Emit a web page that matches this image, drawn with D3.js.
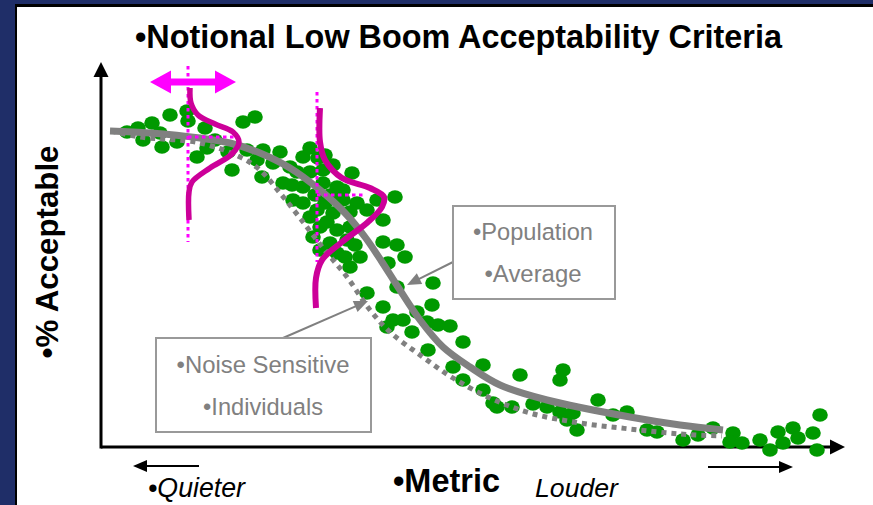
<!DOCTYPE html>
<html>
<head>
<meta charset="utf-8">
<script src="https://cdn.jsdelivr.net/npm/d3@7"></script>
<style>
  html, body { margin: 0; padding: 0; background: #1f2e68; }
  svg { display: block; }
</style>
</head>
<body>
<svg id="chart" width="873" height="505"></svg>
<script>
// Individual responses: metric level vs. acceptability (notional units)
const dotMetric = [26,37,51,69,86,87,42,61,76,96,
  106,104,131,142,154,146,127,162,179,189,
  172,202,209,209,222,232,251,242,256,276,
  294,282,161,156,182,202,192,202,222,236,
  242,224,209,232,249,266,219,236,249,229,
  246,219,236,259,282,296,304,287,249,332,
  296,266,282,331,292,302,286,316,311,326,
  337,349,362,327,352,382,362,382,396,411,
  419,432,446,462,459,459,466,476,497,512,
  526,546,556,582,597,612,632,629,641,659,
  669,677,682,692,697,712,719,716,472,392,
  114,59,191,214,216,226,254,217,196,229,
  212,244,224];
const dotAcceptable = [315,319,324,332,336,326,307,300,305,290,
  299,319,277,325,330,297,295,297,295,280,
  284,290,299,275,277,282,274,257,244,247,
  250,227,270,287,264,260,247,244,264,260,
  247,244,230,234,235,237,220,217,220,204,
  207,197,194,190,205,202,190,184,180,164,
  160,154,140,142,127,127,120,135,115,125,
  122,121,105,97,80,82,67,57,40,40,
  72,43,40,77,67,35,27,17,47,32,
  35,17,15,7,12,19,14,5,4,7,
  -3,15,4,19,9,14,32,-3,34,44,
  307,314,262,252,237,225,202,289,275,252,
  210,190,292];

// Population average curve
const avgMetric = [9,49,99,129,159,189,219,244,264,281,297,319,342,369,399,446,529,579,622];
const avgAcceptable = [316,314,309,304,294,279,257,234,210,185,160,127,100,80,62,47,30,22,17];

// Noise-sensitive individuals curve
const sensMetric = [10,39,99,139,159,179,199,222,246,269,289,319,352,389,429,479,529,579,621];
const sensAcceptable = [316,310,304,290,277,254,229,199,170,137,115,92,69,49,34,24,18,13,11];

// Spread of individual thresholds at two levels (drawn sideways)
const spreadLowMetric = [89,90,97,114,132,138,131,109,91,88,88];
const spreadLowAcceptable = [359,344,332,323,315,305,293,279,265,255,227];
const spreadHighMetric = [219,219,224,241,269,283,281,267,241,221,215,215];
const spreadHighAcceptable = [339,305,287,269,259,250,240,225,205,187,169,139];

// Text
const titleText = "•Notional Low Boom Acceptability Criteria";
const yTitle = "•% Acceptable";
const xTitle = "•Metric";
const quietText = "•Quieter";
const loudText = "Louder";
const avgLabel = ["•Population", "•Average"];
const sensLabel = ["•Noise Sensitive", "•Individuals"];

const GREEN = "#009900", GRAY = "#808080", DARK_MAGENTA = "#CC0099", MAGENTA = "#FF00FF";
const FONT = "'Liberation Sans', Arial, Helvetica, sans-serif";

const svg = d3.select("#chart");

// Frame
svg.append("rect").attr("width", 873).attr("height", 505).attr("fill", "#1f2e68");
svg.append("rect").attr("x", 15).attr("y", 4).attr("width", 858).attr("height", 501).attr("fill", "#000");
svg.append("rect").attr("x", 17).attr("y", 7).attr("width", 856).attr("height", 498).attr("fill", "#fff");

const x = d3.scaleLinear().domain([0, 744]).range([101, 845]);
const y = d3.scaleLinear().domain([0, 385]).range([447, 62]);

function fitText(t, width) {
  const len = t.node().getComputedTextLength();
  const fs = parseFloat(t.attr("font-size"));
  t.attr("font-size", (fs * width / len).toFixed(2));
  return t;
}

function arrow(g, x1, y1, x2, y2, color, w, headLen, headHalf) {
  const a = Math.atan2(y2 - y1, x2 - x1);
  const bx = x2 - headLen * Math.cos(a), by = y2 - headLen * Math.sin(a);
  g.append("line").attr("x1", x1).attr("y1", y1).attr("x2", bx + Math.cos(a)).attr("y2", by + Math.sin(a))
    .attr("stroke", color).attr("stroke-width", w);
  const px = -Math.sin(a) * headHalf, py = Math.cos(a) * headHalf;
  g.append("polygon")
    .attr("points", [[x2, y2], [bx + px, by + py], [bx - px, by - py]].map(p => p.join(",")).join(" "))
    .attr("fill", color);
}

// Axes (no ticks: notional scales)
const axes = svg.append("g");
const [x0, x1] = x.range();
const [y0, y1] = y.range();
arrow(axes, x0, y0, x1, y0, "#000", 3, 15, 7.5);
arrow(axes, x0, y0 + 1.5, x0, y1, "#000", 3, 15, 7.5);

// Individual responses
const pts = dotMetric.map((m, i) => [m, dotAcceptable[i]]);
svg.append("g").selectAll("ellipse").data(pts).join("ellipse")
  .attr("cx", d => x(d[0])).attr("cy", d => y(d[1]))
  .attr("rx", 7.8).attr("ry", 6.8).attr("fill", GREEN);

const line = d3.line().x(d => x(d[0])).y(d => y(d[1])).curve(d3.curveCatmullRom.alpha(0.5));

// Noise-sensitive curve (dotted)
svg.append("path").datum(sensMetric.map((m, i) => [m, sensAcceptable[i]]))
  .attr("d", line).attr("fill", "none").attr("stroke", GRAY)
  .attr("stroke-width", 5).attr("stroke-dasharray", "5,5");

// Population average curve
svg.append("path").datum(avgMetric.map((m, i) => [m, avgAcceptable[i]]))
  .attr("d", line).attr("fill", "none").attr("stroke", GRAY)
  .attr("stroke-width", 7);

// Threshold spreads
const spreads = svg.append("g");
function spreadGuides(cx, top, bottom, peakY, peakX) {
  spreads.append("line").attr("x1", x(cx)).attr("x2", x(cx)).attr("y1", y(top)).attr("y2", y(bottom))
    .attr("stroke", MAGENTA).attr("stroke-width", 3).attr("stroke-dasharray", "3.5,3.5");
  spreads.append("line").attr("x1", x(cx)).attr("x2", x(peakX)).attr("y1", y(peakY)).attr("y2", y(peakY))
    .attr("stroke", MAGENTA).attr("stroke-width", 3).attr("stroke-dasharray", "3.5,3.5");
}
spreadGuides(87, 381, 205, 310, 137);
spreadGuides(216, 355, 185, 252, 264);

spreads.append("path").datum(spreadLowMetric.map((m, i) => [m, spreadLowAcceptable[i]]))
  .attr("d", line).attr("fill", "none").attr("stroke", DARK_MAGENTA).attr("stroke-width", 5.5);
spreads.append("path").datum(spreadHighMetric.map((m, i) => [m, spreadHighAcceptable[i]]))
  .attr("d", line).attr("fill", "none").attr("stroke", DARK_MAGENTA).attr("stroke-width", 6);

// Double-headed shift arrow
(function () {
  const cy = y(365), xl = x(49), xr = x(135), hl = 21, hh = 11.5, sh = 3.5;
  spreads.append("polygon").attr("fill", MAGENTA).attr("points", [
    [xl, cy], [xl + hl, cy - hh], [xl + hl, cy - sh], [xr - hl, cy - sh], [xr - hl, cy - hh],
    [xr, cy], [xr - hl, cy + hh], [xr - hl, cy + sh], [xl + hl, cy + sh], [xl + hl, cy + hh]
  ].map(p => p.join(",")).join(" "));
})();

// Annotation boxes
const notes = svg.append("g").attr("font-family", FONT);
arrow(notes, 453, 262, x(306), y(162), GRAY, 2, 14, 6);
arrow(notes, 283, 338, x(267), y(146), GRAY, 2, 14, 6);

notes.append("rect").attr("x", 453).attr("y", 206).attr("width", 162).attr("height", 93)
  .attr("fill", "#fff").attr("stroke", "#999").attr("stroke-width", 2);
notes.append("rect").attr("x", 156).attr("y", 338).attr("width", 215).attr("height", 94)
  .attr("fill", "#fff").attr("stroke", "#999").attr("stroke-width", 2);

fitText(notes.append("text").attr("x", 533).attr("y", 240).attr("text-anchor", "middle")
  .attr("font-size", 21).attr("fill", GRAY).text(avgLabel[0]), 120);
fitText(notes.append("text").attr("x", 533).attr("y", 282).attr("text-anchor", "middle")
  .attr("font-size", 21).attr("fill", GRAY).text(avgLabel[1]), 97);
fitText(notes.append("text").attr("x", 263).attr("y", 373).attr("text-anchor", "middle")
  .attr("font-size", 21).attr("fill", GRAY).text(sensLabel[0]), 173);
fitText(notes.append("text").attr("x", 263).attr("y", 415).attr("text-anchor", "middle")
  .attr("font-size", 21).attr("fill", GRAY).text(sensLabel[1]), 120);

// Titles and direction hints
const labels = svg.append("g").attr("font-family", FONT).attr("fill", "#000");
fitText(labels.append("text").attr("x", 458.5).attr("y", 48).attr("text-anchor", "middle")
  .attr("font-size", 26).attr("font-weight", "bold").text(titleText), 647);
fitText(labels.append("text").attr("transform", "translate(58,252) rotate(-90)").attr("text-anchor", "middle")
  .attr("font-size", 25).attr("font-weight", "bold").text(yTitle), 213);
fitText(labels.append("text").attr("x", 393).attr("y", 492)
  .attr("font-size", 24).attr("font-weight", "bold").text(xTitle), 107);
fitText(labels.append("text").attr("x", 148).attr("y", 497)
  .attr("font-size", 20).attr("font-style", "italic").text(quietText), 97);
fitText(labels.append("text").attr("x", 535).attr("y", 497)
  .attr("font-size", 20).attr("font-style", "italic").text(loudText), 83);

arrow(labels, 199, 466, 133, 466, "#000", 2, 14, 6);
arrow(labels, 708, 467, 793, 467, "#000", 2, 14, 6);
</script>
</body>
</html>
